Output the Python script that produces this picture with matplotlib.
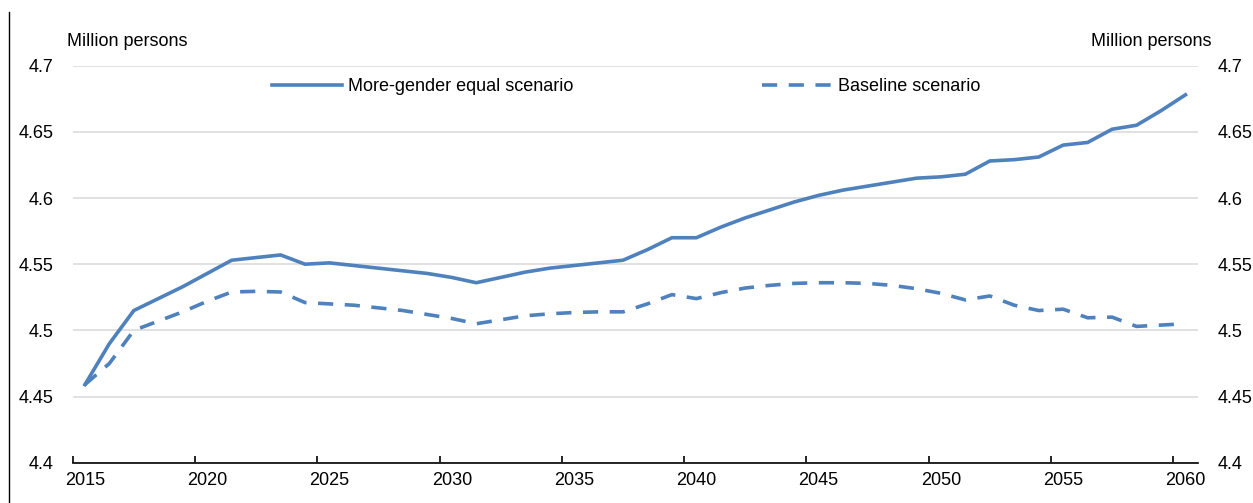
import matplotlib
matplotlib.use('Agg')
import matplotlib.pyplot as plt
from matplotlib import font_manager
from matplotlib.lines import Line2D

# 数据 (Million persons)
years = list(range(2015, 2061))
more_equal = [
    4.459, 4.490, 4.515, 4.524, 4.533, 4.543, 4.553, 4.555, 4.557, 4.550,
    4.551, 4.549, 4.547, 4.545, 4.543, 4.540, 4.536, 4.540, 4.544, 4.547,
    4.549, 4.551, 4.553, 4.561, 4.570, 4.570, 4.578, 4.585, 4.591, 4.597,
    4.602, 4.606, 4.609, 4.612, 4.615, 4.616, 4.618, 4.628, 4.629, 4.631,
    4.640, 4.642, 4.652, 4.655, 4.666, 4.678,
]
baseline = [
    4.459, 4.475, 4.500, 4.507, 4.514, 4.522, 4.529, 4.5295, 4.529, 4.521,
    4.520, 4.519, 4.517, 4.515, 4.512, 4.509, 4.505, 4.508, 4.511, 4.5125,
    4.5135, 4.514, 4.514, 4.520, 4.527, 4.524, 4.5285, 4.532, 4.534, 4.5355,
    4.536, 4.536, 4.5355, 4.534, 4.5315, 4.528, 4.523, 4.526, 4.519, 4.515,
    4.516, 4.5095, 4.510, 4.503, 4.504, 4.505,
]
y_ticks = [4.4, 4.45, 4.5, 4.55, 4.6, 4.65, 4.7]
y_labels = ['4.4', '4.45', '4.5', '4.55', '4.6', '4.65', '4.7']
x_label_years = [2015, 2020, 2025, 2030, 2035, 2040, 2045, 2050, 2055, 2060]

names = {f.name for f in font_manager.fontManager.ttflist}
if 'Liberation Sans Narrow' in names:
    plt.rcParams['font.family'] = ['Liberation Sans Narrow', 'DejaVu Sans']
    FS = 14.5
else:
    plt.rcParams['font.family'] = ['Liberation Sans', 'DejaVu Sans']
    FS = 13

BLUE = '#4F81BD'
W, H = 1253, 503

fig = plt.figure(figsize=(W / 100, H / 100), dpi=100, facecolor='white')
ax = fig.add_axes([72.7 / W, 40.3 / H, (1197.7 - 72.7) / W, (462.7 - 65.7) / H])

l1, = ax.plot(years, more_equal, color=BLUE, lw=2.6, solid_joinstyle='miter', zorder=3)
l2, = ax.plot(years, baseline, color=BLUE, lw=2.6, dashes=(4.2, 3.2), zorder=3)

ax.set_xlim(2014.5, 2060.5)
ax.set_ylim(4.4, 4.7)

# 网格线
ax.set_yticks(y_ticks)
ax.set_yticklabels(y_labels)
ax.yaxis.grid(True, color='#d9d9d9', lw=1.1)
ax.set_axisbelow(True)
ax.tick_params(axis='y', length=0, labelsize=FS, pad=14, labelright=True, right=False)

# x 轴：刻度在类别边界，标签在中心
ax.set_xticks([y - 0.5 for y in x_label_years])
ax.set_xticklabels([])
ax.tick_params(axis='x', which='major', direction='in', length=5, width=1.2, color='black')
ax.set_xticks(x_label_years, minor=True)
ax.set_xticklabels([str(y) for y in x_label_years], minor=True)
ax.tick_params(axis='x', which='minor', length=0, labelsize=FS, pad=7)

for s in ['top', 'left', 'right']:
    ax.spines[s].set_visible(False)
ax.spines['bottom'].set_linewidth(1.2)
ax.spines['bottom'].set_color('black')

fig.text(66.7 / W, 1 - 41.7 / H, 'Million persons', fontsize=FS, ha='left', va='center')
fig.text(1211.7 / W, 1 - 41.7 / H, 'Million persons', fontsize=FS, ha='right', va='center')

# 图例：两个单独的图例，各自定位
hl = 70 / (FS * 100 / 72)
tp = 6 / (FS * 100 / 72)
leg1 = ax.legend([l1], ['More-gender equal scenario'], loc='center left',
                 bbox_to_anchor=(272 / W, 1 - 86.7 / H), bbox_transform=fig.transFigure,
                 frameon=False, fontsize=FS, borderpad=0, borderaxespad=0,
                 handlelength=hl, handletextpad=tp)
ax.add_artist(leg1)
ax.legend([l2], ['Baseline scenario'], loc='center left',
          bbox_to_anchor=(762 / W, 1 - 86.7 / H), bbox_transform=fig.transFigure,
          frameon=False, fontsize=FS, borderpad=0, borderaxespad=0,
          handlelength=hl, handletextpad=tp)

# 左侧竖线
fig.add_artist(Line2D([9.3 / W, 9.3 / W], [0, 1 - 12 / H], transform=fig.transFigure,
                      color='black', lw=1))

plt.savefig('out.png', dpi=100, facecolor='white')
